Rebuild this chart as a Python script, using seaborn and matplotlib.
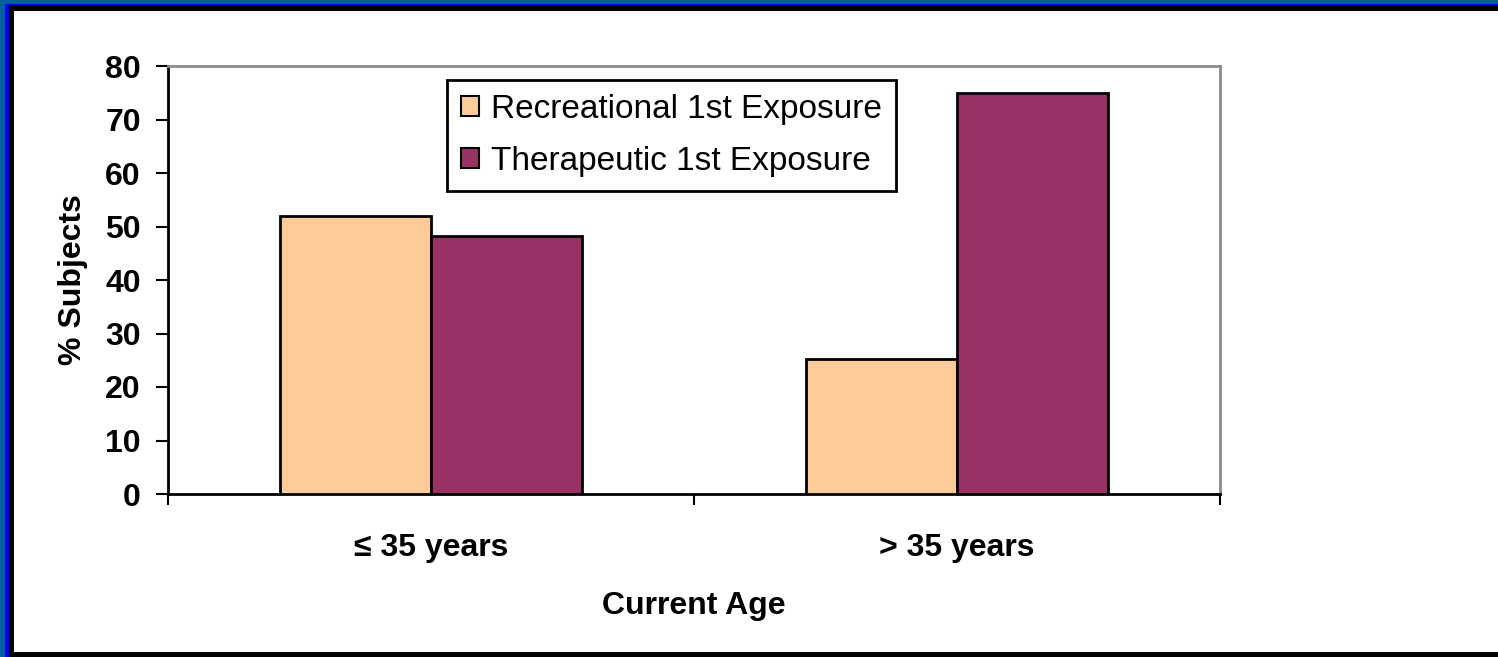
import matplotlib
matplotlib.use("Agg")
import matplotlib.pyplot as plt
import seaborn as sns
import pandas as pd
from matplotlib.patches import Rectangle

# data
age_groups = ["\u2264 35 years", "> 35 years"]
recreational = [52.0, 25.2]
therapeutic = [48.2, 75.0]
series_names = ["Recreational 1st Exposure", "Therapeutic 1st Exposure"]
colors = ["#FFCC99", "#993366"]

df = pd.DataFrame({
    "Current Age": age_groups * 2,
    "value": recreational + therapeutic,
    "series": [series_names[0]] * 2 + [series_names[1]] * 2,
})

sns.set_style("white")
plt.rcParams["font.family"] = ["Liberation Sans", "DejaVu Sans"]
plt.rcParams["text.color"] = "black"
plt.rcParams["axes.labelcolor"] = "black"
plt.rcParams["xtick.color"] = "black"
plt.rcParams["ytick.color"] = "black"

W, H = 1498, 657
fig = plt.figure(figsize=(W / 100, H / 100), dpi=100)
fig.patch.set_facecolor("white")

# slide style frame
frame = [
    ((0, 0), 1, 1, "#00609C"),
    ((5 / W, 0), 1, 1 - 4 / H, "#0000FF"),
    ((9 / W, 0), 1, 1 - 5 / H, "black"),
    ((14 / W, 5 / H), 1, 1 - 16 / H, "white"),
]
for xy, w, h, c in frame:
    fig.patches.append(Rectangle(xy, w, h, transform=fig.transFigure,
                                 facecolor=c, edgecolor="none", zorder=-10))

ax = fig.add_axes([168 / W, (H - 494) / H, 1052 / W, 428 / H])
ax.set_facecolor("none")

sns.barplot(data=df, x="Current Age", y="value", hue="series",
            palette=colors, width=0.574, edgecolor="black", linewidth=2,
            saturation=1, ax=ax, zorder=3)

FS = 23
ax.set_ylim(0, 80)
ax.set_xlim(-0.5, 1.5)
ax.set_yticks(range(0, 81, 10))
ax.tick_params(axis="y", which="major", left=True, direction="out", length=8.5, width=1.5,
               color="black", pad=11, labelsize=FS)
for lab in ax.get_yticklabels():
    lab.set_fontweight("bold")

# ticks at category boundaries, labels at centres
ax.set_xticks([-0.5, 0.5, 1.5])
ax.set_xticklabels([])
ax.tick_params(axis="x", which="major", bottom=True, direction="out", length=8, width=1.5,
               color="black")
ax.set_xticks([0, 1], minor=True)
ax.set_xticklabels(age_groups, minor=True, fontsize=FS, fontweight="bold")
ax.tick_params(axis="x", which="minor", bottom=True, length=0, pad=28)

ax.set_xlabel("Current Age", fontsize=FS, fontweight="bold", labelpad=20)
ax.set_ylabel("% Subjects", fontsize=FS, fontweight="bold", labelpad=12)

for side in ["left", "bottom"]:
    ax.spines[side].set_color("black")
    ax.spines[side].set_linewidth(2)
for side in ["top", "right"]:
    ax.spines[side].set_color("#8C8C8C")
    ax.spines[side].set_linewidth(2)
    ax.spines[side].set_visible(True)

leg = ax.legend(loc="upper left", bbox_to_anchor=((447 - 168) / 1052, (494 - 80) / 428),
                borderaxespad=0, frameon=True, fancybox=False, framealpha=1, fontsize=24,
                handlelength=0.55, handleheight=0.55, handletextpad=0.35,
                labelspacing=0.62, borderpad=0.42, title=None)
leg.get_frame().set_edgecolor("black")
leg.get_frame().set_linewidth(2)
for h in leg.legend_handles:
    h.set_edgecolor("black")
    h.set_linewidth(1.5)

fig.savefig("out.png", dpi=100, facecolor=fig.get_facecolor())
